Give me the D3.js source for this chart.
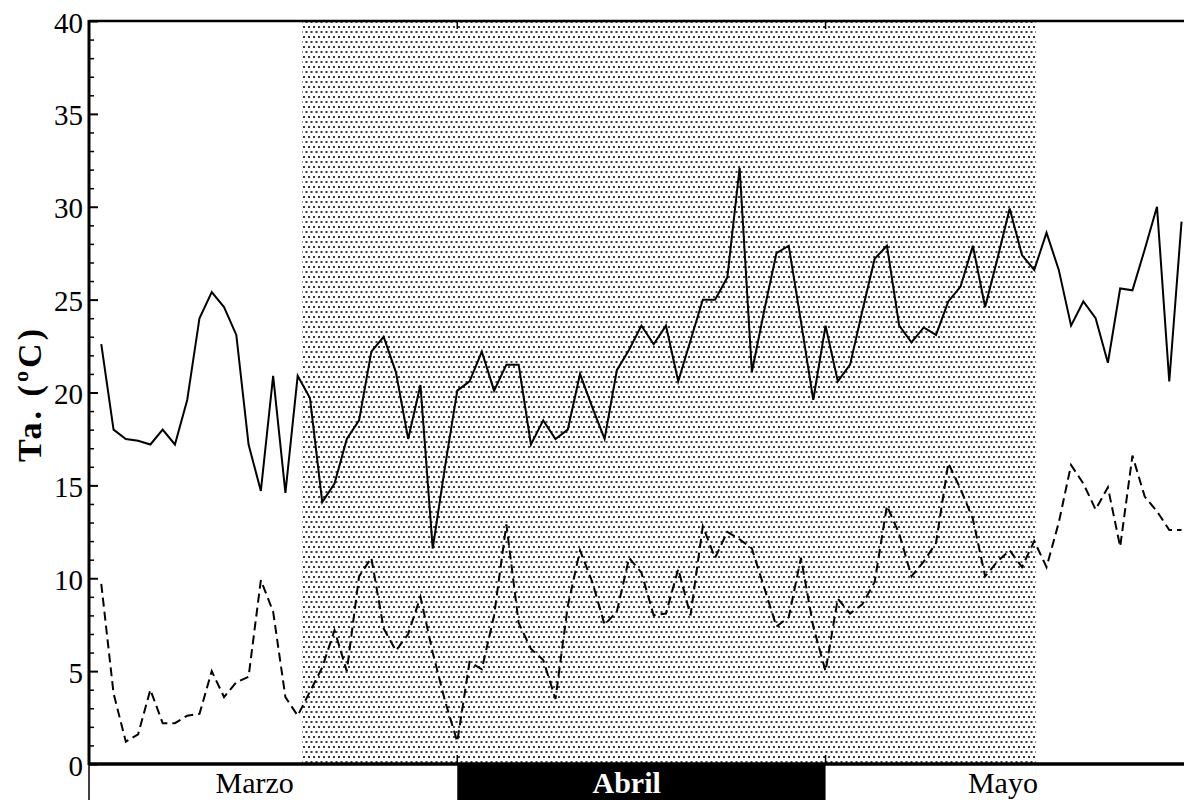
<!DOCTYPE html>
<html><head><meta charset="utf-8">
<script src="https://cdn.jsdelivr.net/npm/d3@7"></script>
<style>body{margin:0;background:#fff}</style>
</head><body><svg id="c" width="1184" height="800"></svg>
<script>
// ---- data ----
// day index: 1 = 1 March, 32 = 1 April, 62 = 1 May
const firstDay = 3;
const tmax = [22.6,18.0,17.5,17.4,17.2,18.0,17.2,19.6,24.0,25.4,
              24.6,23.1,17.2,14.7,20.9,14.6,20.9,19.7,14.1,15.1,
              17.5,18.5,22.2,23.0,21.1,17.5,20.4,11.6,16.0,20.1,
              20.6,22.2,20.1,21.5,21.5,17.2,18.5,17.5,18.0,21.0,
              19.2,17.5,21.2,22.3,23.6,22.6,23.6,20.6,22.8,25.0,
              25.0,26.2,32.1,21.1,24.4,27.5,27.9,23.8,19.6,23.6,
              20.6,21.5,24.4,27.2,27.9,23.6,22.7,23.5,23.1,24.9,
              25.7,27.9,24.6,27.2,29.9,27.4,26.6,28.6,26.6,23.6,
              24.9,24.0,21.6,25.6,25.5,27.7,30.0,20.6,29.2];
const tmin = [9.7,3.8,1.2,1.6,4.0,2.2,2.2,2.6,2.7,5.0,
              3.6,4.4,4.7,9.9,8.2,3.6,2.6,3.9,5.2,7.2,
              5.0,10.1,11.1,7.3,6.1,7.0,9.0,6.0,3.4,1.2,
              5.5,5.1,8.0,12.9,7.6,6.2,5.6,3.5,8.5,11.5,
              9.8,7.5,8.2,11.1,10.3,8.0,8.1,10.5,8.0,12.8,
              11.1,12.5,12.1,11.6,9.5,7.4,7.9,11.1,7.4,5.0,
              8.9,8.1,8.6,9.8,13.9,12.4,10.1,10.9,11.9,16.2,
              14.8,13.2,10.1,10.9,11.5,10.6,12.0,10.6,13.0,16.1,
              15.1,13.7,14.9,11.7,16.6,14.4,13.6,12.6,12.6];
const yTicks = [0,5,10,15,20,25,30,35,40];
const months = ["Marzo","Abril","Mayo"];
const monthStart = [1,32,62];
const monthEnd = [32,62,93];
const monthLabelDay = [15.5,45.8,76.45];
const monthHighlight = [false,true,false];
const shadeFrom = 19.35, shadeTo = 79.15;
const yTitle = "Ta. (ºC)";

// ---- layout ----
const svg = d3.select("#c");
const L = 89, R = 1184, T = 21, B = 764;
const x = d3.scaleLinear().domain([2, 91.2]).range([L, R]);
const y = d3.scaleLinear().domain([0, 40]).range([B, T]);
const serif = "'Liberation Serif','Times New Roman',serif";

const defs = svg.append("defs");
const pat = defs.append("pattern").attr("id","dots").attr("patternUnits","userSpaceOnUse")
  .attr("width",5).attr("height",10);
pat.append("rect").attr("x",0.5).attr("y",1).attr("width",2).attr("height",2).attr("fill","#383838");
pat.append("rect").attr("x",3).attr("y",6).attr("width",2).attr("height",2).attr("fill","#383838");
defs.append("clipPath").attr("id","clip").append("rect")
  .attr("x",L).attr("y",T).attr("width",R-L).attr("height",B-T);

// shaded period
svg.append("rect").attr("x",x(shadeFrom)).attr("y",T)
  .attr("width",x(shadeTo)-x(shadeFrom)).attr("height",B-T).attr("fill","url(#dots)");

const days = tmax.map((_,i)=>firstDay+i);
const line = d3.line().x((d,i)=>x(days[i])).y(d=>y(d));
const g = svg.append("g").attr("clip-path","url(#clip)");
g.append("path").datum(tmax).attr("d",line).attr("fill","none")
  .attr("stroke","#000").attr("stroke-width",2).attr("stroke-linejoin","miter");
g.append("path").datum(tmin).attr("d",line).attr("fill","none")
  .attr("stroke","#000").attr("stroke-width",2).attr("stroke-dasharray","9,5");

// y axis ticks
const minor = d3.range(0,41).filter(v=>v%5!==0);
svg.append("g").attr("transform",`translate(${L},0)`)
  .call(d3.axisLeft(y).tickValues(minor).tickSize(-5).tickFormat(""))
  .call(a=>a.select(".domain").remove())
  .selectAll("line").attr("stroke","#000").attr("stroke-width",1.5);
const ya = svg.append("g").attr("transform",`translate(${L},0)`)
  .call(d3.axisLeft(y).tickValues(yTicks).tickSize(-9).tickPadding(6))
  .call(a=>a.select(".domain").remove());
ya.selectAll("line").attr("stroke","#000").attr("stroke-width",2);
ya.selectAll("text").attr("font-family",serif).attr("font-size",29).attr("fill","#000")
  .attr("dy","0.38em");

// frame lines
svg.append("line").attr("x1",L).attr("x2",R).attr("y1",T).attr("y2",T)
  .attr("stroke","#000").attr("stroke-width",2.5);
svg.append("line").attr("x1",L).attr("x2",L).attr("y1",T-1).attr("y2",B+1)
  .attr("stroke","#000").attr("stroke-width",3);
svg.append("line").attr("x1",L).attr("x2",L).attr("y1",B).attr("y2",800)
  .attr("stroke","#000").attr("stroke-width",1.5);

// month band
const mb = svg.append("g");
months.forEach((m,i)=>{
  if (monthHighlight[i]) {
    mb.append("rect").attr("x",x(monthStart[i])).attr("y",B)
      .attr("width",x(monthEnd[i])-x(monthStart[i])).attr("height",800-B).attr("fill","#000");
  }
  mb.append("text").attr("x",x(monthLabelDay[i])).attr("y",793)
    .attr("text-anchor","middle").attr("font-family",serif).attr("font-size",30)
    .attr("font-weight",monthHighlight[i]?"bold":"normal")
    .attr("fill",monthHighlight[i]?"#fff":"#000").text(m);
});
svg.append("line").attr("x1",L).attr("x2",R).attr("y1",B).attr("y2",B)
  .attr("stroke","#000").attr("stroke-width",3.5);
// month boundary ticks
monthStart.slice(1).forEach(d=>{
  svg.append("line").attr("x1",x(d)).attr("x2",x(d)).attr("y1",T).attr("y2",T+8)
    .attr("stroke","#000").attr("stroke-width",1.5);
  svg.append("line").attr("x1",x(d)).attr("x2",x(d)).attr("y1",B-9).attr("y2",B)
    .attr("stroke","#000").attr("stroke-width",1.5);
});

// y title
svg.append("text").attr("transform","translate(41,394) rotate(-90)")
  .attr("text-anchor","middle").attr("font-family",serif).attr("font-weight","bold")
  .attr("font-size",34).attr("letter-spacing",3).attr("fill","#000").text(yTitle);
</script></body></html>
